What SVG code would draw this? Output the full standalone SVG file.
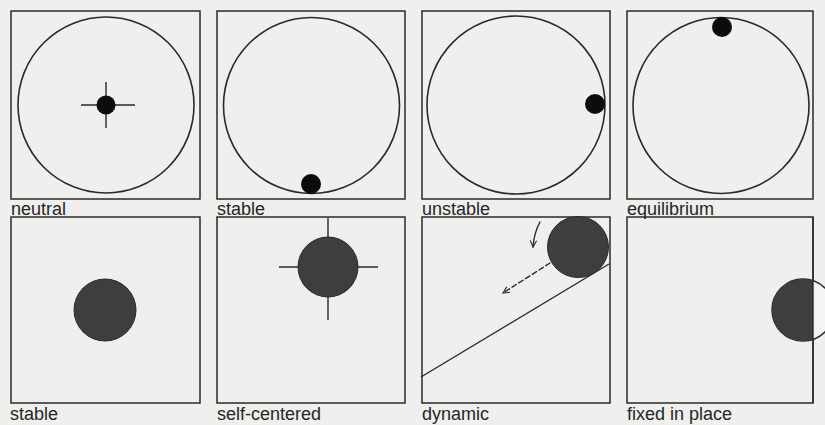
<svg xmlns="http://www.w3.org/2000/svg" width="825" height="425" viewBox="0 0 825 425">
<style>
.frame{fill:none;stroke:#2a2a2a;stroke-width:1.5}
.ring{fill:none;stroke:#2a2a2a;stroke-width:1.6}
.dot{fill:#0c0c0c}
.ball{fill:#3e3e3e;stroke:#2a2a2a;stroke-width:1}
.tick{stroke:#2a2a2a;stroke-width:1.4;fill:none}
.lbl{font-family:"Liberation Sans",Arial,sans-serif;font-size:18px;fill:#262626}
.arr{fill:none;stroke:#2a2a2a;stroke-width:1.4;stroke-linecap:round;stroke-linejoin:round}
</style>
<defs>
<marker id="head" viewBox="0 0 10 10" refX="9" refY="5" markerWidth="8" markerHeight="8" orient="auto" markerUnits="userSpaceOnUse">
<path d="M1,1 L9,5 L1,9" fill="none" stroke="#2a2a2a" stroke-width="1.4"/>
</marker>
<clipPath id="leftOfEdge"><rect x="700" y="250" width="113" height="120"/></clipPath>
</defs>
<rect width="825" height="425" fill="#efefed"/>

<g id="neutral">
<rect class="frame" x="11" y="11" width="189" height="188"/>
<circle class="ring" cx="106" cy="105" r="88"/>
<path class="tick" d="M81,105 H135 M106,82 V128"/>
<circle class="dot" cx="106" cy="105" r="9.5"/>
<text class="lbl" x="11" y="215">neutral</text>
</g>

<g id="stable-top">
<rect class="frame" x="217" y="11" width="188" height="188"/>
<circle class="ring" cx="311.5" cy="105.5" r="88"/>
<circle class="dot" cx="311" cy="184" r="10"/>
<text class="lbl" x="217" y="215">stable</text>
</g>

<g id="unstable">
<rect class="frame" x="422" y="11" width="188" height="188"/>
<circle class="ring" cx="516" cy="105" r="89"/>
<circle class="dot" cx="595" cy="104" r="10"/>
<text class="lbl" x="422" y="215">unstable</text>
</g>

<g id="equilibrium">
<rect class="frame" x="627" y="11" width="186" height="188"/>
<circle class="ring" cx="721" cy="105.5" r="88"/>
<circle class="dot" cx="722" cy="27" r="10"/>
<text class="lbl" x="627" y="215">equilibrium</text>
</g>

<g id="stable-bottom">
<rect class="frame" x="11" y="217" width="189" height="186"/>
<circle class="ball" cx="105" cy="310" r="31"/>
<text class="lbl" x="10" y="420">stable</text>
</g>

<g id="self-centered">
<rect class="frame" x="217" y="217" width="188" height="186"/>
<path class="tick" d="M279,267 H378 M328,218 V320"/>
<circle class="ball" cx="328" cy="267" r="30"/>
<text class="lbl" x="217" y="420">self-centered</text>
</g>

<g id="dynamic">
<rect class="frame" x="422" y="217" width="188" height="186"/>
<line class="tick" x1="421" y1="377" x2="609" y2="264"/>
<circle class="ball" cx="578" cy="247" r="30.5"/>
<text class="lbl" x="422" y="420">dynamic</text>
</g>

<g id="fixed-in-place">
<rect class="frame" x="627" y="217" width="186" height="186"/>
<circle cx="803" cy="310" r="31" fill="#f4f4f2" stroke="#2a2a2a" stroke-width="1.5"/>
<circle cx="803" cy="310" r="31" fill="#3e3e3e" clip-path="url(#leftOfEdge)"/>
<line class="tick" x1="813" y1="217" x2="813" y2="403"/>
<text class="lbl" x="627" y="420">fixed in place</text>
</g>

<g id="connectors">
<path class="arr" d="M540,222 Q534,233 533,247" marker-end="url(#head)"/>
<path class="arr" d="M550,263 L503,293" stroke-dasharray="5,3" marker-end="url(#head)"/>
</g>
</svg>
